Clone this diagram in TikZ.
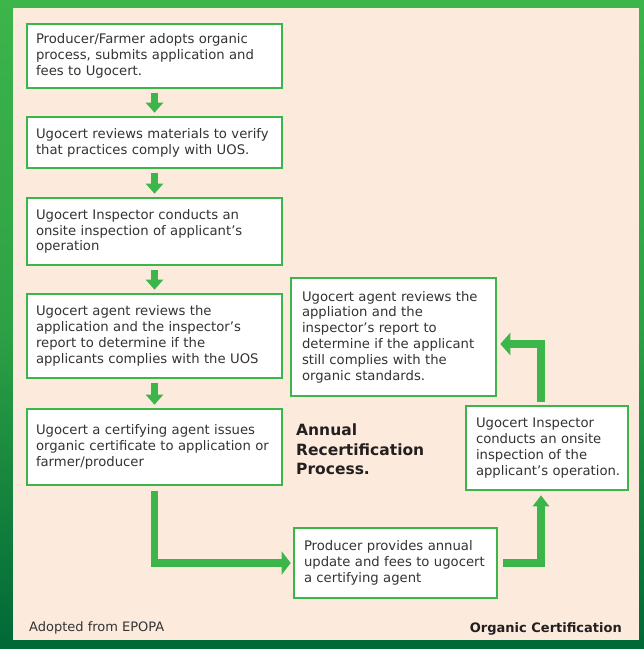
\documentclass[tikz,border=0pt]{standalone}
\usepackage{fontspec}
\setmainfont{DejaVu Sans}
\usetikzlibrary{arrows.meta}
\definecolor{fgreen}{HTML}{3CB54A}
\definecolor{dgreen}{HTML}{006837}
\definecolor{beige}{HTML}{FCEBDC}
\definecolor{txt}{HTML}{333333}
\definecolor{txtb}{HTML}{231F20}
\begin{document}
\begin{tikzpicture}[x=1pt,y=-1pt,
 box/.style={draw=fgreen, line width=2.6pt, fill=white, align=left, text=txt,
   font=\fontsize{13.2}{15.8}\selectfont, inner ysep=0pt},
 lbox/.style={box, minimum width=255pt, text width=237pt, inner xsep=9pt},
 arr/.style={draw=fgreen, line width=7.5pt, -{Triangle[width=17pt,length=10pt]}},
]
\useasboundingbox (0,0) rectangle (644,649);
\shade[top color=fgreen, bottom color=dgreen, middle color=fgreen!75!dgreen] (0,0) rectangle (644,649);
\fill[beige] (13,8) rectangle (639,640);

\node[lbox, minimum height=64pt] (b1) at (154.5,56) {Producer/Farmer adopts organic\\process, submits application and\\fees to Ugocert.};
\node[lbox, minimum height=51pt] (b2) at (154.5,142.5) {Ugocert reviews materials to verify\\that practices comply with UOS.};
\node[lbox, minimum height=67pt] (b3) at (154.5,231.5) {Ugocert Inspector conducts an\\onsite inspection of applicant’s\\operation};
\node[lbox, minimum height=84pt] (b4) at (154.5,336) {Ugocert agent reviews the\\application and the inspector’s\\report to determine if the\\applicants complies with the UOS};
\node[lbox, minimum height=76pt] (b5) at (154.5,447) {Ugocert a certifying agent issues\\organic certificate to application or\\farmer/producer};

\node[box, minimum width=205pt, text width=183pt, inner xsep=11pt, minimum height=118pt] (r1) at (393.5,337) {Ugocert agent reviews the\\appliation and the\\inspector’s report to\\determine if the applicant\\still complies with the\\organic standards.};
\node[box, minimum width=162pt, text width=142pt, inner xsep=10pt, minimum height=84pt] (r2) at (547,448) {Ugocert Inspector\\conducts an onsite\\inspection of the\\\mbox{applicant’s operation.}};
\node[box, minimum width=203pt, text width=183pt, inner xsep=10pt, minimum height=70pt] (bb) at (395.5,563) {Producer provides annual\\update and fees to ugocert\\a certifying agent};

\draw[arr, shorten <=4pt, shorten >=3pt] (b1.south) -- (b2.north);
\draw[arr, shorten <=4pt, shorten >=3pt] (b2.south) -- (b3.north);
\draw[arr, shorten <=4pt, shorten >=3pt] (b3.south) -- (b4.north);
\draw[arr, shorten <=4pt, shorten >=3pt] (b4.south) -- (b5.north);
\draw[arr, shorten <=5pt, shorten >=2pt, -{Triangle[width=23pt,length=9pt]}] (b5.south) |- (bb.west);
\draw[arr, shorten <=5pt, shorten >=4pt, -{Triangle[width=16pt,length=11pt]}] (bb.east) -| ([xshift=-6pt]r2.south);
\draw[arr, shorten <=3pt, shorten >=3pt, -{Triangle[width=22pt,length=10pt]}] ([xshift=-6pt]r2.north) |- ([yshift=-7pt]r1.east);

\node[anchor=north west, inner sep=0pt, align=left, text=txtb,
  font=\fontsize{15.5}{19.3}\selectfont\bfseries] (ann) at (296,424) {Annual\\Recertification\\Process.};
\node[anchor=base west, inner sep=0pt, text=txt, font=\fontsize{13}{15}\selectfont] (src) at (29,631) {Adopted from EPOPA};
\node[anchor=base east, inner sep=0pt, text=txtb, font=\fontsize{13}{15}\selectfont\bfseries] (ttl) at (622,632) {Organic Certification};
\end{tikzpicture}
\end{document}
